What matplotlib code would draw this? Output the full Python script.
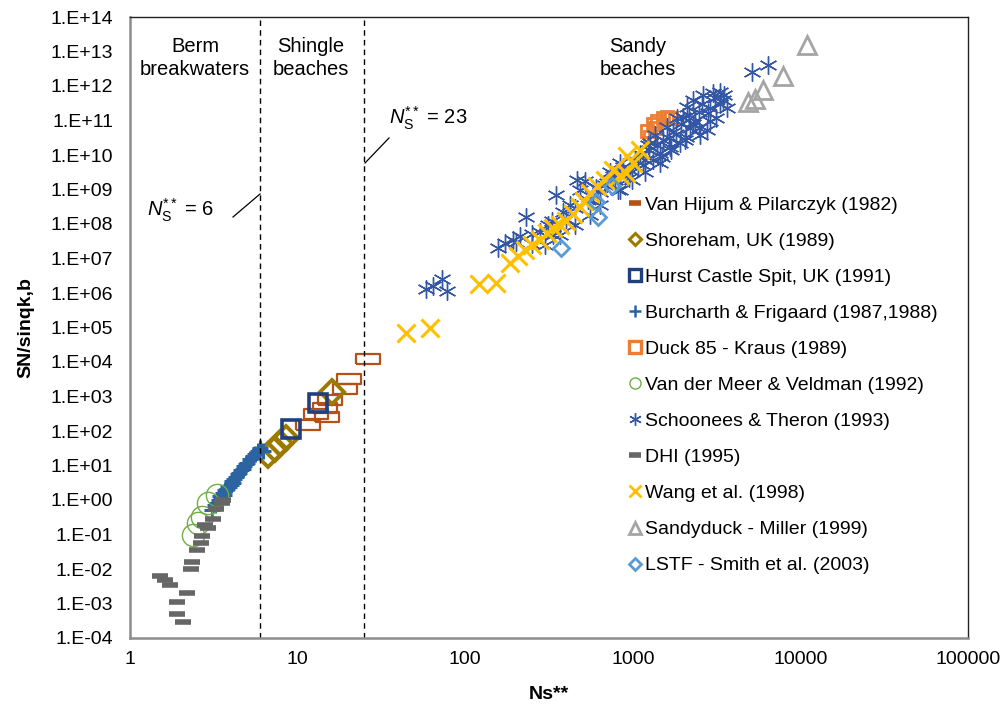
import math
import matplotlib
matplotlib.use("Agg")
import matplotlib.pyplot as plt
from matplotlib.lines import Line2D
from matplotlib.ticker import FixedLocator, FuncFormatter, NullLocator

plt.rcParams['font.family'] = ['Liberation Sans', 'DejaVu Sans']
plt.rcParams['mathtext.fontset'] = 'custom'
plt.rcParams['mathtext.rm'] = 'Liberation Sans'
plt.rcParams['mathtext.it'] = 'Liberation Sans:italic'

# ---------------- data ----------------
vh_x = [11.5, 12.9, 14.6, 15.0, 15.6, 19.2, 20.3, 26.3]
vh_y = [150, 310, 465, 260, 790, 1650, 3200, 1.2e4]

sh_x = [6.7, 7.3, 7.9, 8.5, 16.0]
sh_y = [20, 30, 45, 62, 1350]

hu_x = [9.1, 13.2]
hu_y = [115, 650]

bf_x = [3.1, 3.2, 3.3, 3.4, 3.45, 3.5, 3.6, 3.65, 3.7, 3.8, 3.85, 3.9, 4.0, 4.05, 4.1,
        4.2, 4.3, 4.4, 4.5, 4.6, 4.7, 4.8, 4.9, 5.0, 5.2, 5.4, 5.6, 5.8, 6.0, 6.2]
bf_y = [0.5, 0.7, 0.8, 1.0, 1.3, 1.1, 1.6, 1.4, 1.9, 2.1, 2.6, 2.4, 2.8, 3.5, 3.2,
        4.0, 4.6, 5.5, 6.0, 7.5, 8.0, 9.5, 11, 12, 15, 19, 22, 27, 32, 26]

dk_x = [1216, 1267, 1318, 1355, 1400, 1518, 1590, 1700]
dk_y = [5.0e10, 3.3e10, 8.0e10, 6.0e10, 1.0e11, 1.2e11, 1.25e11, 1.2e11]

vm_x = [2.38, 2.56, 2.68, 2.93, 3.32]
vm_y = [0.10, 0.21, 0.33, 0.83, 1.4]

st_x = [58.4, 64.3, 72.7, 77.9,
        156, 173, 193, 212, 230, 250, 279, 312, 334, 348, 384, 422, 462, 484, 521, 540,
        578, 637, 682, 731, 784, 815, 839, 899, 962, 1031, 1076, 1104, 1183, 1236, 1267,
        1318, 1355, 1453, 1518, 1590, 1667, 1744, 1826, 1913, 2000, 2090, 2100, 2195,
        2300, 2360, 2470, 2518, 2640, 2760, 2890, 3020, 3150, 3315, 3460, 3630,
        637, 555, 452, 368, 300, 839, 987, 1183, 1453, 1700, 2050, 2470, 2890,
        700, 760, 880, 950, 1150, 1250, 1400, 1500, 1650, 1800, 1950, 2150, 2300,
        2600, 2800, 3100, 3300, 3500, 400, 450, 250, 200, 330, 600,
        5160, 6450]
st_y = [1.3e6, 1.6e6, 2.6e6, 1.15e6,
        2.0e7, 2.8e7, 3.5e7, 4.5e7, 1.6e8, 2.6e7, 5.9e7, 9.3e7, 4.8e7, 6.9e8, 2.2e8,
        3.5e8, 1.9e9, 9.8e8, 1.8e9, 5.0e8, 6.9e8, 8.5e8, 1.35e9, 3.2e9, 1.9e9, 9.8e8,
        5.9e9, 2.6e9, 3.7e9, 7.2e9, 4.2e9, 1.1e10, 7.2e9, 1.9e10, 2.2e10, 7.2e9, 3.8e10,
        1.15e10, 2.7e10, 6.4e10, 1.7e10, 4.7e10, 1.2e11, 2.2e10, 1.25e11, 3.3e10, 2.5e11,
        6.0e10, 3.9e11, 1.0e11, 1.8e11, 3.8e10, 5.5e11, 5.3e10, 2.3e11, 6.3e11, 1.2e11,
        6.7e11, 3.9e11, 2.3e11,
        3.5e8, 1.8e8, 9.3e7, 4.8e7, 2.5e7, 9.8e8, 1.9e9, 3.2e9, 5.9e9, 1.4e10, 2.7e10,
        6.0e10, 1.0e11,
        1.5e9, 2.5e9, 4.5e9, 2.2e9, 5.0e9, 1.4e10, 2.0e10, 8.5e9, 3.2e10, 4.0e10, 8.0e10,
        1.4e11, 8.0e10, 3.0e11, 1.6e11, 4.5e11, 3.0e11, 5.5e11, 1.4e8, 3.0e8, 5.0e7,
        3.0e7, 1.2e8, 1.1e9,
        2.6e12, 4.1e12]

dhi_x = [1.50, 1.62, 1.73, 2.18, 1.90, 1.91, 2.08, 2.35, 2.32, 2.50, 2.64, 2.70, 2.80,
         2.91, 3.11, 3.25, 3.52, 3.59]
dhi_y = [6.4e-3, 4.8e-3, 3.5e-3, 2.0e-3, 1.07e-3, 5.0e-4, 2.9e-4, 0.016, 0.010, 0.035,
         0.058, 0.091, 0.19, 0.15, 0.29, 0.55, 0.80, 1.0]

wa_x = [44.4, 61.7, 121, 153, 185, 207, 228, 250, 279, 308, 334, 368, 399, 440, 484,
        512, 555, 611, 682, 762, 839, 923, 1003, 1105, 911]
wa_y = [6.9e4, 1.0e5, 1.8e6, 1.95e6, 7.4e6, 1.2e7, 1.8e7, 2.5e7, 3.4e7, 5.5e7, 7.6e7,
        9.4e7, 1.2e8, 2.0e8, 3.1e8, 4.6e8, 8.0e8, 1.3e9, 1.9e9, 3.7e9, 2.7e9, 9.3e9,
        5.9e9, 1.4e10, 3.0e9]

sd_x = [10950, 7870, 5980, 5330, 4860]
sd_y = [1.55e13, 1.95e12, 7.6e11, 4.2e11, 3.5e11]

ls_x = [373, 620, 600, 750]
ls_y = [2.0e7, 1.6e8, 4.4e8, 1.26e9]

labels = ["Van Hijum & Pilarczyk (1982)", "Shoreham, UK (1989)", "Hurst Castle Spit, UK (1991)",
          "Burcharth & Frigaard (1987,1988)", "Duck 85 - Kraus (1989)",
          "Van der Meer & Veldman (1992)", "Schoonees & Theron (1993)", "DHI (1995)",
          "Wang et al. (1998)", "Sandyduck - Miller (1999)", "LSTF - Smith et al. (2003)"]

x_ticks = [1, 10, 100, 1000, 10000, 100000]
y_exps = list(range(-4, 15))
dividers = [6, 25]

# ---------------- style ----------------
c_vh = "#B4501A"
c_sh = "#9C7A00"
c_hu = "#1F3F7F"
c_bf = "#2B64A0"
c_dk = "#ED7D31"
c_vm = "#70AD47"
c_st = "#3457A5"
c_dhi = "#666666"
c_wa = "#FFC000"
c_sd = "#A5A5A5"
c_ls = "#5B9BD5"

rect = [(-1, -0.42), (1, -0.42), (1, 0.42), (-1, 0.42), (-1, -0.42)]
aster = (6, 2, 0)

W, H = 1007, 709
fig = plt.figure(figsize=(W / 100, H / 100), dpi=100)
ax = fig.add_axes([130 / W, 71 / H, 838 / W, 621 / H])
ax.set_xscale('log')
ax.set_yscale('log')
ax.set_xlim(1, 1e5)
ax.set_ylim(1e-4, 1e14)

def pts(x, y, **kw):
    ax.plot(x, y, ls='none', **kw)

pts(vh_x, vh_y, marker=rect, ms=17, mfc='none', mec=c_vh, mew=1.6)
pts(sh_x, sh_y, marker='D', ms=12, mfc='none', mec=c_sh, mew=2.8)
pts(hu_x, hu_y, marker='s', ms=13, mfc='none', mec=c_hu, mew=2.6)
pts(bf_x, bf_y, marker='+', ms=12, mec=c_bf, mew=2.2)
pts(dk_x, dk_y, marker='s', ms=8, mfc='none', mec=c_dk, mew=2)
pts(vm_x, vm_y, marker='o', ms=16, mfc='none', mec=c_vm, mew=1)
pts(st_x, st_y, marker=aster, ms=13, mec=c_st, mew=1)
pts(dhi_x, dhi_y, marker='_', ms=12, mec=c_dhi, mew=4)
pts(wa_x, wa_y, marker='x', ms=13, mec=c_wa, mew=2.2)
pts(sd_x, sd_y, marker='^', ms=13, mfc='none', mec=c_sd, mew=2)
pts(ls_x, ls_y, marker='D', ms=8, mfc='none', mec=c_ls, mew=2)

for d in dividers:
    ax.axvline(d, color='black', lw=1, ls=(0, (4, 3)))

def yfmt(v, p):
    e = round(math.log10(v))
    return "1.E" + ("+" if e >= 0 else "-") + f"{abs(e):02d}"

ax.xaxis.set_major_locator(FixedLocator(x_ticks))
ax.xaxis.set_minor_locator(NullLocator())
ax.xaxis.set_major_formatter(FuncFormatter(lambda v, p: f"{v:.0f}"))
ax.yaxis.set_major_locator(FixedLocator([10.0 ** e for e in y_exps]))
ax.yaxis.set_minor_locator(NullLocator())
ax.yaxis.set_major_formatter(FuncFormatter(yfmt))
ax.tick_params(axis='both', length=0, labelsize=14)
ax.tick_params(axis='y', pad=12)
ax.tick_params(axis='x', pad=9)

for s in ['left', 'bottom']:
    ax.spines[s].set_color('#8c8c8c')
    ax.spines[s].set_linewidth(1.8)
for s in ['top', 'right']:
    ax.spines[s].set_color('#222222')
    ax.spines[s].set_linewidth(1.0)

ax.set_xlabel("Ns**", fontsize=14, fontweight='bold', labelpad=13)
ax.set_ylabel("SN/sinqk,b", fontsize=14, fontweight='bold', labelpad=12)

# region labels
def ftxt(px, py, s, **kw):
    fig.text(px / W, 1 - py / H, s, fontsize=14.5, **kw)

ftxt(195, 58, "Berm\nbreakwaters", ha='center', va='center', linespacing=1.25)
ftxt(311, 58, "Shingle\nbeaches", ha='center', va='center', linespacing=1.25)
ftxt(638, 58, "Sandy\nbeaches", ha='center', va='center', linespacing=1.25)
ftxt(389, 118, r"$\mathit{N}_{\mathrm{S}}^{**}$ = 23", ha='left', va='center')
ftxt(147, 210, r"$\mathit{N}_{\mathrm{S}}^{**}$ = 6", ha='left', va='center')

fig.add_artist(Line2D([233 / W, 260 / W], [1 - 217 / H, 1 - 194 / H],
                      transform=fig.transFigure, color='black', lw=0.9))
fig.add_artist(Line2D([365 / W, 389 / W], [1 - 163 / H, 1 - 138 / H],
                      transform=fig.transFigure, color='black', lw=0.9))

# legend
handles = [
    Line2D([], [], ls='none', marker='_', ms=8, mew=4, mec=c_vh),
    Line2D([], [], ls='none', marker='D', ms=6, mfc='none', mew=2.2, mec=c_sh),
    Line2D([], [], ls='none', marker='s', ms=8, mfc='none', mew=2.4, mec=c_hu),
    Line2D([], [], ls='none', marker='+', ms=9, mew=1.8, mec=c_bf),
    Line2D([], [], ls='none', marker='s', ms=8, mfc='none', mew=2.4, mec=c_dk),
    Line2D([], [], ls='none', marker='o', ms=8, mfc='none', mew=1, mec=c_vm),
    Line2D([], [], ls='none', marker=aster, ms=9, mew=1, mec=c_st),
    Line2D([], [], ls='none', marker='_', ms=9, mew=4, mec=c_dhi),
    Line2D([], [], ls='none', marker='x', ms=8, mew=2, mec=c_wa),
    Line2D([], [], ls='none', marker='^', ms=9, mfc='none', mew=2, mec=c_sd),
    Line2D([], [], ls='none', marker='D', ms=6, mfc='none', mew=2, mec=c_ls),
]
fig.legend(handles, labels, loc='upper left', bbox_to_anchor=(630 / W, 1 - 196 / H),
           frameon=False, fontsize=14, handlelength=0.55, handletextpad=0.2,
           labelspacing=0.95, borderpad=0, borderaxespad=0)

fig.savefig("out.png", dpi=100)
